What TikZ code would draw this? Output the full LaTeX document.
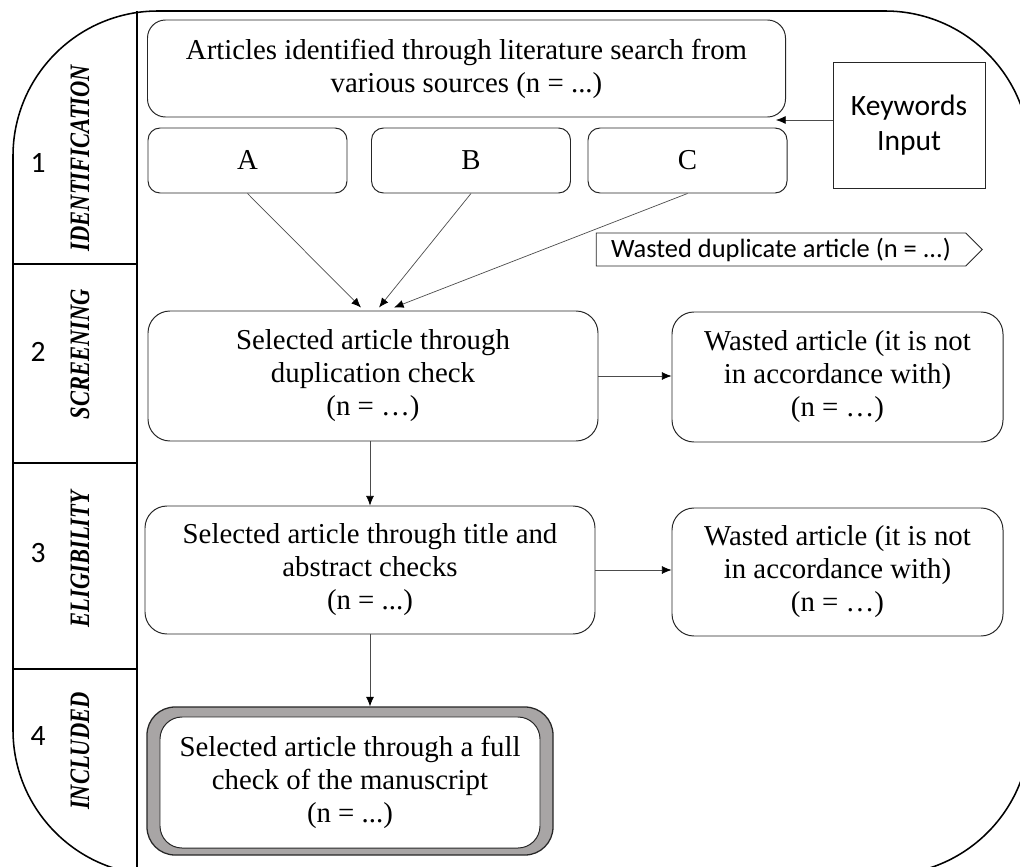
\documentclass[tikz,border=0pt]{standalone}
\usepackage{fontspec}
\usepackage{graphicx}
\setmainfont{Liberation Serif}
\newfontfamily\calib{Carlito}
\usetikzlibrary{arrows.meta,calc,shapes.symbols}
\newcommand{\px}{0.025cm}
\definecolor{shadegray}{RGB}{168,165,165}

\begin{document}
\begin{tikzpicture}[
  x=0.025cm, y=-0.025cm,
  box/.style={rectangle, draw=black!85, line width=0.7pt, rounded corners=22*\px,
              align=center, inner sep=0pt, font=\fontsize{20.5}{23.5}\selectfont},
  src/.style={box, minimum width=199*\px, minimum height=65*\px, rounded corners=12*\px,
              text height=13.5pt, text depth=0pt},
  kwbox/.style={rectangle, draw=black!85, line width=0.7pt, align=center,
                minimum width=152*\px, minimum height=126*\px,
                font=\calib\fontsize{21}{25}\selectfont},
  dupsig/.style={signal, signal to=east, draw=black!85, line width=0.7pt,
                 minimum width=386*\px, minimum height=33*\px, inner sep=2pt,
                 font=\calib\fontsize{18.8}{22}\selectfont},
  phase/.style={rotate=90, inner sep=0pt, font=\fontsize{20}{24}\selectfont\bfseries\itshape},
  num/.style={inner sep=0pt, font=\calib\fontsize{21}{24}\selectfont},
  arr/.style={draw=black!70, line width=0.5pt, -{Latex[length=2.4mm, width=2mm, color=black]}}
]
  \useasboundingbox (0,0) rectangle (1020,867);
  \clip (0,0) rectangle (1020,867);

  % Frame and phase column
  \draw[line width=1.1pt, rounded corners=145*\px] (13,11) rectangle (1030,875);
  \draw[line width=1.1pt] (137,11) -- (137,875);
  \foreach \y in {264,463,669} {
    \draw[line width=1.1pt] (13,\y) -- (137,\y);
  }
  \foreach \i/\y/\w/\ly in {1/163/IDENTIFICATION/158, 2/352/SCREENING/354,
                            3/553/ELIGIBILITY/559, 4/736/INCLUDED/751} {
    \node[num] (n\i) at (38,\y) {\i};
    \node[phase] (p\i) at (80,\ly) {\scalebox{0.8}[1]{\w}};
  }

  % Identification
  \node[box, minimum width=638*\px, minimum height=97*\px, rounded corners=18*\px] (top)
    at (466.5,68.5) {Articles identified through literature search from\\various sources (n = ...)};
  \node[src] (A) at (247.5,160.5) {A};
  \node[src] (B) at (471,160.5) {B};
  \node[src] (C) at (687.5,160.5) {C};
  \node[kwbox] (kw) at (909,125) {Keywords\\Input};
  \coordinate (kwin) at (776,120);
  \draw[arr] (kw.west |- kwin) -- (kwin);
  \node[dupsig] (dup) at (781,249.5) {Wasted duplicate article (n = ...)};

  % Screening
  \node[box, minimum width=450*\px, minimum height=130*\px] (scr)
    at (373,376) {Selected article through\\duplication check\\(n = …)};
  \node[box, minimum width=331*\px, minimum height=130*\px] (w1)
    at (837.5,377) {Wasted article (it is not\\in accordance with)\\(n = …)};
  \draw[arr] (A.south) -- ($(scr.north)+(-12,-3)$);
  \draw[arr] (B.south) -- ($(scr.north)+(6,-3)$);
  \draw[arr] (C.south) -- ($(scr.north)+(21,-3)$);
  \draw[arr] (scr.east) -- (scr.east -| w1.west);

  % Eligibility
  \node[box, minimum width=450*\px, minimum height=128*\px] (elg)
    at (370,570) {Selected article through title and\\abstract checks\\(n = ...)};
  \node[box, minimum width=331*\px, minimum height=128*\px] (w2)
    at (837.5,572) {Wasted article (it is not\\in accordance with)\\(n = …)};
  \draw[arr] (scr.south -| elg.north) -- (elg.north);
  \draw[arr] (elg.east) -- (elg.east -| w2.west);

  % Included
  \node[box, fill=shadegray, line width=0.9pt, minimum width=406*\px, minimum height=148*\px,
        rounded corners=28*\px] (incbg) at (350,781) {};
  \node[box, fill=white, minimum width=380*\px, minimum height=131*\px] (inc)
    at (350,782.5) {Selected article through a full\\check of the manuscript\\(n = ...)};
  \draw[arr] (elg.south) -- (elg.south |- incbg.north);
\end{tikzpicture}
\end{document}
